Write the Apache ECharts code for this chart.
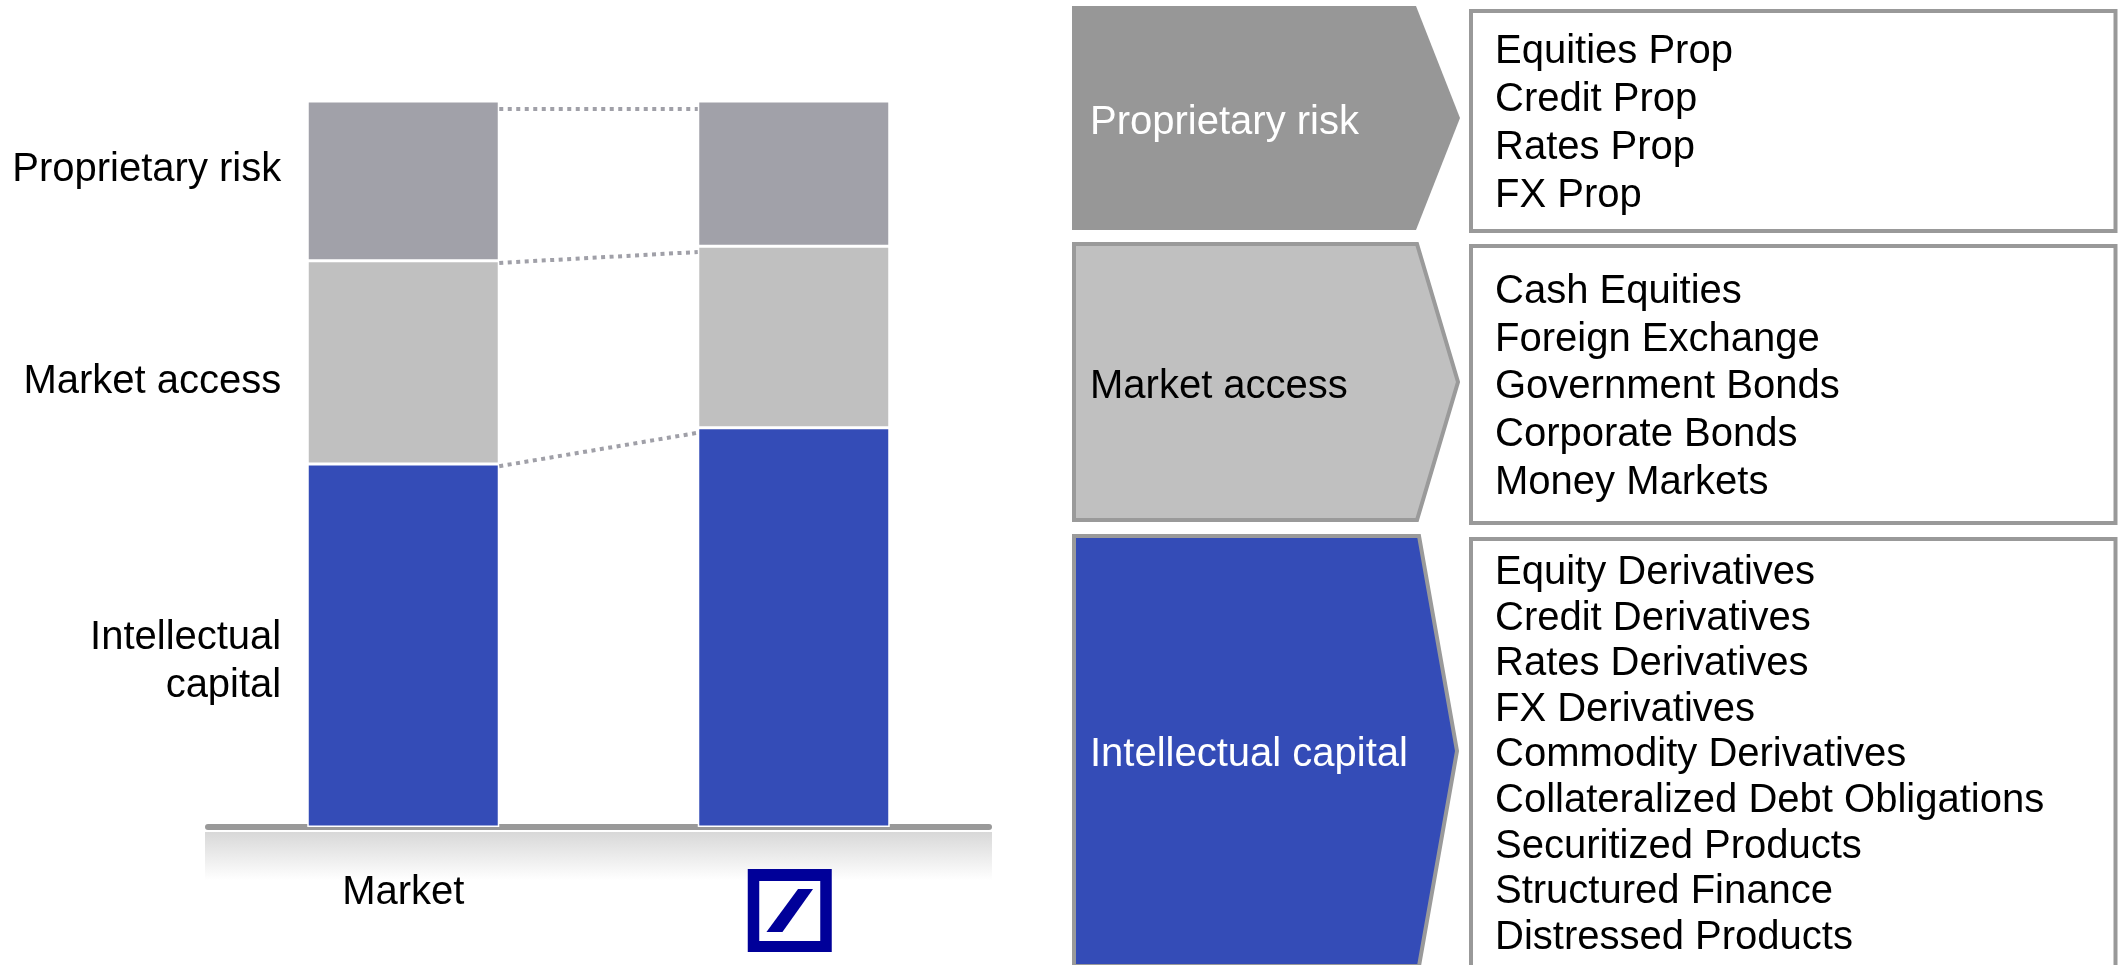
<!DOCTYPE html>
<html>
<head>
<meta charset="utf-8">
<title>Revenue mix</title>
<script src="https://cdn.jsdelivr.net/npm/echarts@6/dist/echarts.min.js"></script>
<style>
  html, body { margin: 0; padding: 0; background: #fff; }
  #chart { width: 2118px; height: 965px; }
</style>
</head>
<body>
<div id="chart"></div>
<script>
// x axis categories
const categories = ["Market", "Deutsche Bank"];
// share of revenues in %, bottom to top
const intellectualCapital = [50, 55];
const marketAccess = [28, 25];
const proprietaryRisk = [22, 20];
// dotted links between bars: [level at Market bar, level at DB bar]
const connectorLevels = [
  [98.9, 98.9],
  [77.7, 79.2],
  [49.7, 54.3],
];
// business lines on the right hand side
const propItems = ["Equities Prop", "Credit Prop", "Rates Prop", "FX Prop"];
const accessItems = ["Cash Equities", "Foreign Exchange", "Government Bonds", "Corporate Bonds", "Money Markets"];
const capitalItems = [
  "Equity Derivatives", "Credit Derivatives", "Rates Derivatives", "FX Derivatives",
  "Commodity Derivatives", "Collateralized Debt Obligations", "Securitized Products",
  "Structured Finance", "Distressed Products",
];

const FONT = '"Liberation Sans", Arial, sans-serif';
const BAR_W = 192;
const GRID_L = 208, GRID_R = 1129, GRID_T = 101, GRID_B = 138;
const TY = 4; // text baseline nudge

const chart = echarts.init(document.getElementById("chart"));

// only the first bar carries the side label
function firstLabelled(values, dy) {
  return values.map((v, i) => (i === 0 ? { value: v, label: { show: true, offset: [0, dy + TY] } } : v));
}

function sideLabel(text) {
  return {
    show: false,
    position: "left",
    distance: 26,
    formatter: text,
    color: "#000",
    fontSize: 40,
    lineHeight: 48,
    fontFamily: FONT,
  };
}

const option = {
  backgroundColor: "#fff",
  animation: false,
  grid: { left: GRID_L, right: GRID_R, top: GRID_T, bottom: GRID_B },
  xAxis: {
    type: "category",
    data: categories,
    offset: 3,
    axisTick: { show: false },
    axisLine: { lineStyle: { color: "#999", width: 6, cap: "round" } },
    axisLabel: {
      margin: 63,
      verticalAlign: "middle",
      fontSize: 40,
      fontFamily: FONT,
      color: "#000",
      formatter: (v, i) => (i === 0 ? v : ""),
    },
  },
  yAxis: { type: "value", min: 0, max: 100, show: false },
  series: [
    {
      name: "Intellectual capital",
      type: "bar",
      stack: "mix",
      barWidth: BAR_W,
      data: firstLabelled(intellectualCapital, 12),
      itemStyle: { color: "#344cb7", borderColor: "#fff", borderWidth: 1.5 },
      label: sideLabel("Intellectual\ncapital"),
    },
    {
      name: "Market access",
      type: "bar",
      stack: "mix",
      barWidth: BAR_W,
      data: firstLabelled(marketAccess, 16),
      itemStyle: { color: "#c0c0c0", borderColor: "#fff", borderWidth: 1.5 },
      label: sideLabel("Market access"),
    },
    {
      name: "Proprietary risk",
      type: "bar",
      stack: "mix",
      barWidth: BAR_W,
      data: firstLabelled(proprietaryRisk, -15),
      itemStyle: { color: "#a1a1a9", borderColor: "#fff", borderWidth: 1.5 },
      label: sideLabel("Proprietary risk"),
    },
    {
      // dotted connectors from the right edge of bar 1 to the left edge of bar 2
      type: "custom",
      silent: true,
      z: 3,
      encode: { x: 0, y: [1, 2] },
      data: connectorLevels.map((c) => [0, c[0], c[1]]),
      renderItem: function (params, api) {
        const p1 = api.coord([0, api.value(1)]);
        const p2 = api.coord([1, api.value(2)]);
        return {
          type: "line",
          shape: { x1: p1[0] + BAR_W / 2, y1: p1[1], x2: p2[0] - BAR_W / 2, y2: p2[1] },
          style: { stroke: "#a0a0a8", lineWidth: 4, lineDash: [4, 4.5], fill: null },
        };
      },
    },
  ],
};
chart.setOption(option);

// right hand panel: chevrons and boxes with the business lines
function textEl(text, x, y, color) {
  return {
    type: "text",
    style: { text: text, x: x, y: y + TY, fill: color, font: "40px " + FONT, textAlign: "left", textVerticalAlign: "middle" },
  };
}
function listEls(items, y0, step) {
  return items.map((t, i) => textEl(t, 1495, y0 + i * step, "#000"));
}
function box(y, h) {
  return { type: "rect", shape: { x: 1471, y: y, width: 644.5, height: h }, style: { fill: "#fff", stroke: "#999", lineWidth: 4 } };
}

const panel = [
  { type: "polygon", shape: { points: [[1072, 6], [1416, 6], [1460, 118], [1416, 230], [1072, 230]] }, style: { fill: "#979797" } },
  { type: "polygon", shape: { points: [[1074, 244], [1417, 244], [1458, 382], [1417, 520], [1074, 520]] }, style: { fill: "#c0c0c0", stroke: "#9a9a9a", lineWidth: 4 } },
  { type: "polygon", shape: { points: [[1074, 536], [1419, 536], [1457, 751], [1419, 966], [1074, 966]] }, style: { fill: "#344cb7", stroke: "#9a9a9a", lineWidth: 4 } },
  textEl("Proprietary risk", 1090, 119, "#fff"),
  textEl("Market access", 1090, 383, "#000"),
  textEl("Intellectual capital", 1090, 751, "#fff"),
  box(11, 220),
  box(246, 277),
  box(539, 440),
]
  .concat(listEls(propItems, 48, 48))
  .concat(listEls(accessItems, 288, 47.7))
  .concat(listEls(capitalItems, 569, 45.6));

// shadow under the axis and the bank logo under the second bar
const axisY = chart.getHeight() - GRID_B + 3;
const dbX = chart.convertToPixel({ xAxisIndex: 0 }, categories[1]);
const shadow = {
  type: "rect",
  z: 0,
  shape: { x: GRID_L - 3, y: axisY + 2, width: chart.getWidth() - GRID_L - GRID_R + 6, height: 48 },
  style: {
    fill: new echarts.graphic.LinearGradient(0, 0, 0, 1, [
      { offset: 0, color: "#d8d8d8" },
      { offset: 1, color: "#ffffff" },
    ]),
  },
};
const logo = {
  type: "group",
  x: dbX - 46,
  y: 869,
  children: [
    { type: "rect", shape: { x: 0, y: 0, width: 84, height: 83 }, style: { fill: "#000099" } },
    { type: "rect", shape: { x: 11.5, y: 12, width: 61, height: 60 }, style: { fill: "#fff" } },
    { type: "polygon", shape: { points: [[50.3, 20], [65.3, 20], [34.7, 63], [18.7, 63]] }, style: { fill: "#000099" } },
  ],
};

chart.setOption({ graphic: [shadow, logo].concat(panel) });
</script>
</body>
</html>
